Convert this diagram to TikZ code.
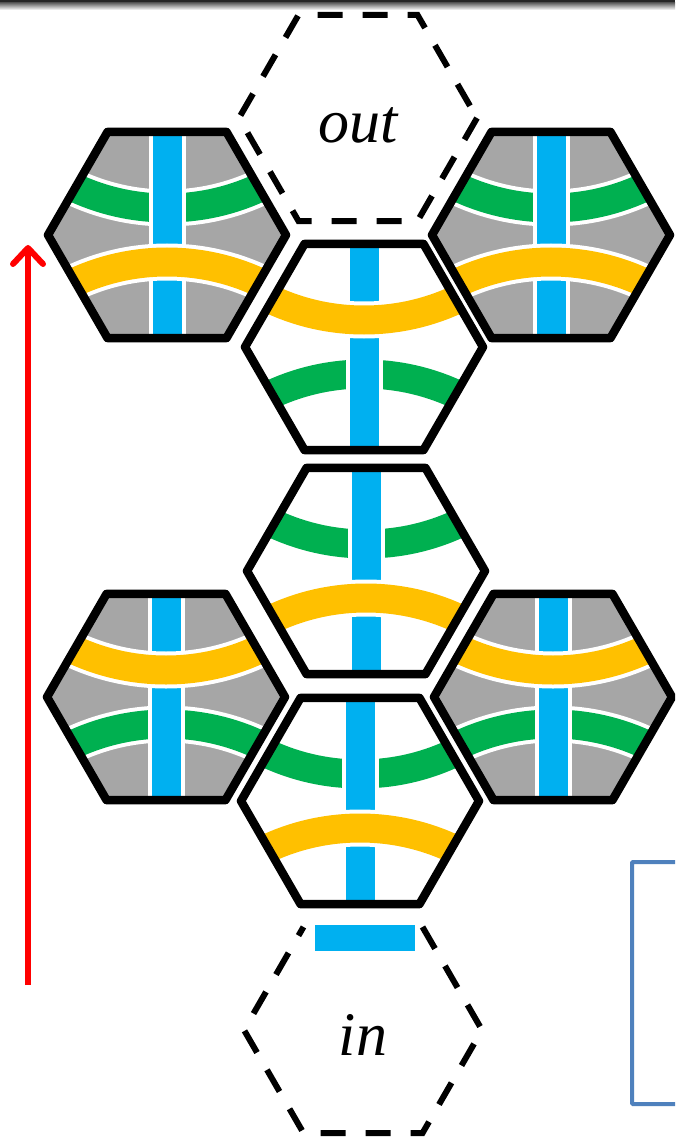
\documentclass[tikz,border=0pt]{standalone}
\usepackage{fontspec}
\setmainfont{Liberation Serif}
\usetikzlibrary{arrows.meta}
\definecolor{cellgray}{HTML}{A6A6A6}
\definecolor{cellblue}{HTML}{00B0F0}
\definecolor{cellgreen}{HTML}{00B050}
\definecolor{cellyellow}{HTML}{FFC000}
\definecolor{framebl}{HTML}{4F81BD}
\tikzset{
 hexborder/.style={draw=black, line width=8.5pt, line join=round},
 ghostborder/.style={draw=black, line width=6pt, dash pattern=on 25pt off 20pt},
 bandedge/.style={draw=white, line width=37pt},
 band/.style={line width=29pt},
 hexlabel/.style={font=\fontsize{62}{62}\selectfont\itshape, inner sep=0pt, anchor=base},
 redarrow/.style={draw=red, line width=6pt, -{Straight Barb[length=16pt,width=30pt,round]}},
 framebox/.style={draw=framebl, line width=4pt, rounded corners=1pt},
}
\newcommand{\hexat}[1]{([shift={(#1)}]0:119) -- ([shift={(#1)}]60:119) -- ([shift={(#1)}]120:119) -- ([shift={(#1)}]180:119) -- ([shift={(#1)}]240:119) -- ([shift={(#1)}]300:119) -- cycle}
\newcommand{\hexcell}[4]{%
 \begin{scope}
  \clip \hexat{#1};
  \fill[#2] \hexat{#1};
  \draw[bandedge] ([shift={(#1)}]0,#3) circle[radius=220];
  \draw[band, cellgreen] ([shift={(#1)}]0,#3) circle[radius=220];
  \draw[bandedge] ([shift={(#1)}]0,-125) -- ([shift={(#1)}]0,125);
  \draw[band, cellblue] ([shift={(#1)}]0,-125) -- ([shift={(#1)}]0,125);
  \draw[bandedge] ([shift={(#1)}]0,#4) circle[radius=220];
  \draw[band, cellyellow] ([shift={(#1)}]0,#4) circle[radius=220];
 \end{scope}
 \draw[hexborder] \hexat{#1};
}
\begin{document}
\begin{tikzpicture}[x=1pt,y=-1pt]
\useasboundingbox (0,0) rectangle (675,1139);
\clip (0,0) rectangle (675,1139);
\fill[white] (0,0) rectangle (675,1139);
% top bar
\fill[black!85] (0,0) rectangle (675,3);
\shade[top color=black!60, bottom color=white] (0,3) rectangle (675,10);
% centres
\coordinate (gTL) at (167,235);
\coordinate (gTR) at (551,235);
\coordinate (gBL) at (166,697);
\coordinate (gBR) at (553,697);
\coordinate (w1) at (364,347);
\coordinate (w2) at (366,571);
\coordinate (w3) at (360,801);
\coordinate (hout) at (358,118);
\coordinate (hin) at (363,1030);
% out ghost
\draw[ghostborder] \hexat{hout};
\node[hexlabel] (outtxt) at (358,143) {out};
% gray cells
\hexcell{gTL}{cellgray}{-247}{247}
\hexcell{gTR}{cellgray}{-247}{247}
\hexcell{gBL}{cellgray}{247}{-247}
\hexcell{gBR}{cellgray}{247}{-247}
% white cells
\hexcell{w1}{white}{247}{-247}
\hexcell{w2}{white}{-247}{247}
\hexcell{w3}{white}{-247}{247}
% in ghost (open at the top)
\draw[ghostborder] ([shift={(hin)}]300:119) -- ([shift={(hin)}]0:119) -- ([shift={(hin)}]60:119) -- ([shift={(hin)}]120:119) -- ([shift={(hin)}]180:119) -- ([shift={(hin)}]240:119);
\fill[cellblue] (315,925) rectangle (415,951);
\node[hexlabel] (intxt) at (363,1055) {in};
% red arrow
\coordinate (arrowtail) at (28,985);
\coordinate (arrowtip) at (28,245);
\draw[redarrow] (arrowtail) -- (arrowtip);
% frame
\draw[framebox] (700,862) -- (632,862) -- (632,1104) -- (700,1104);
\end{tikzpicture}
\end{document}
